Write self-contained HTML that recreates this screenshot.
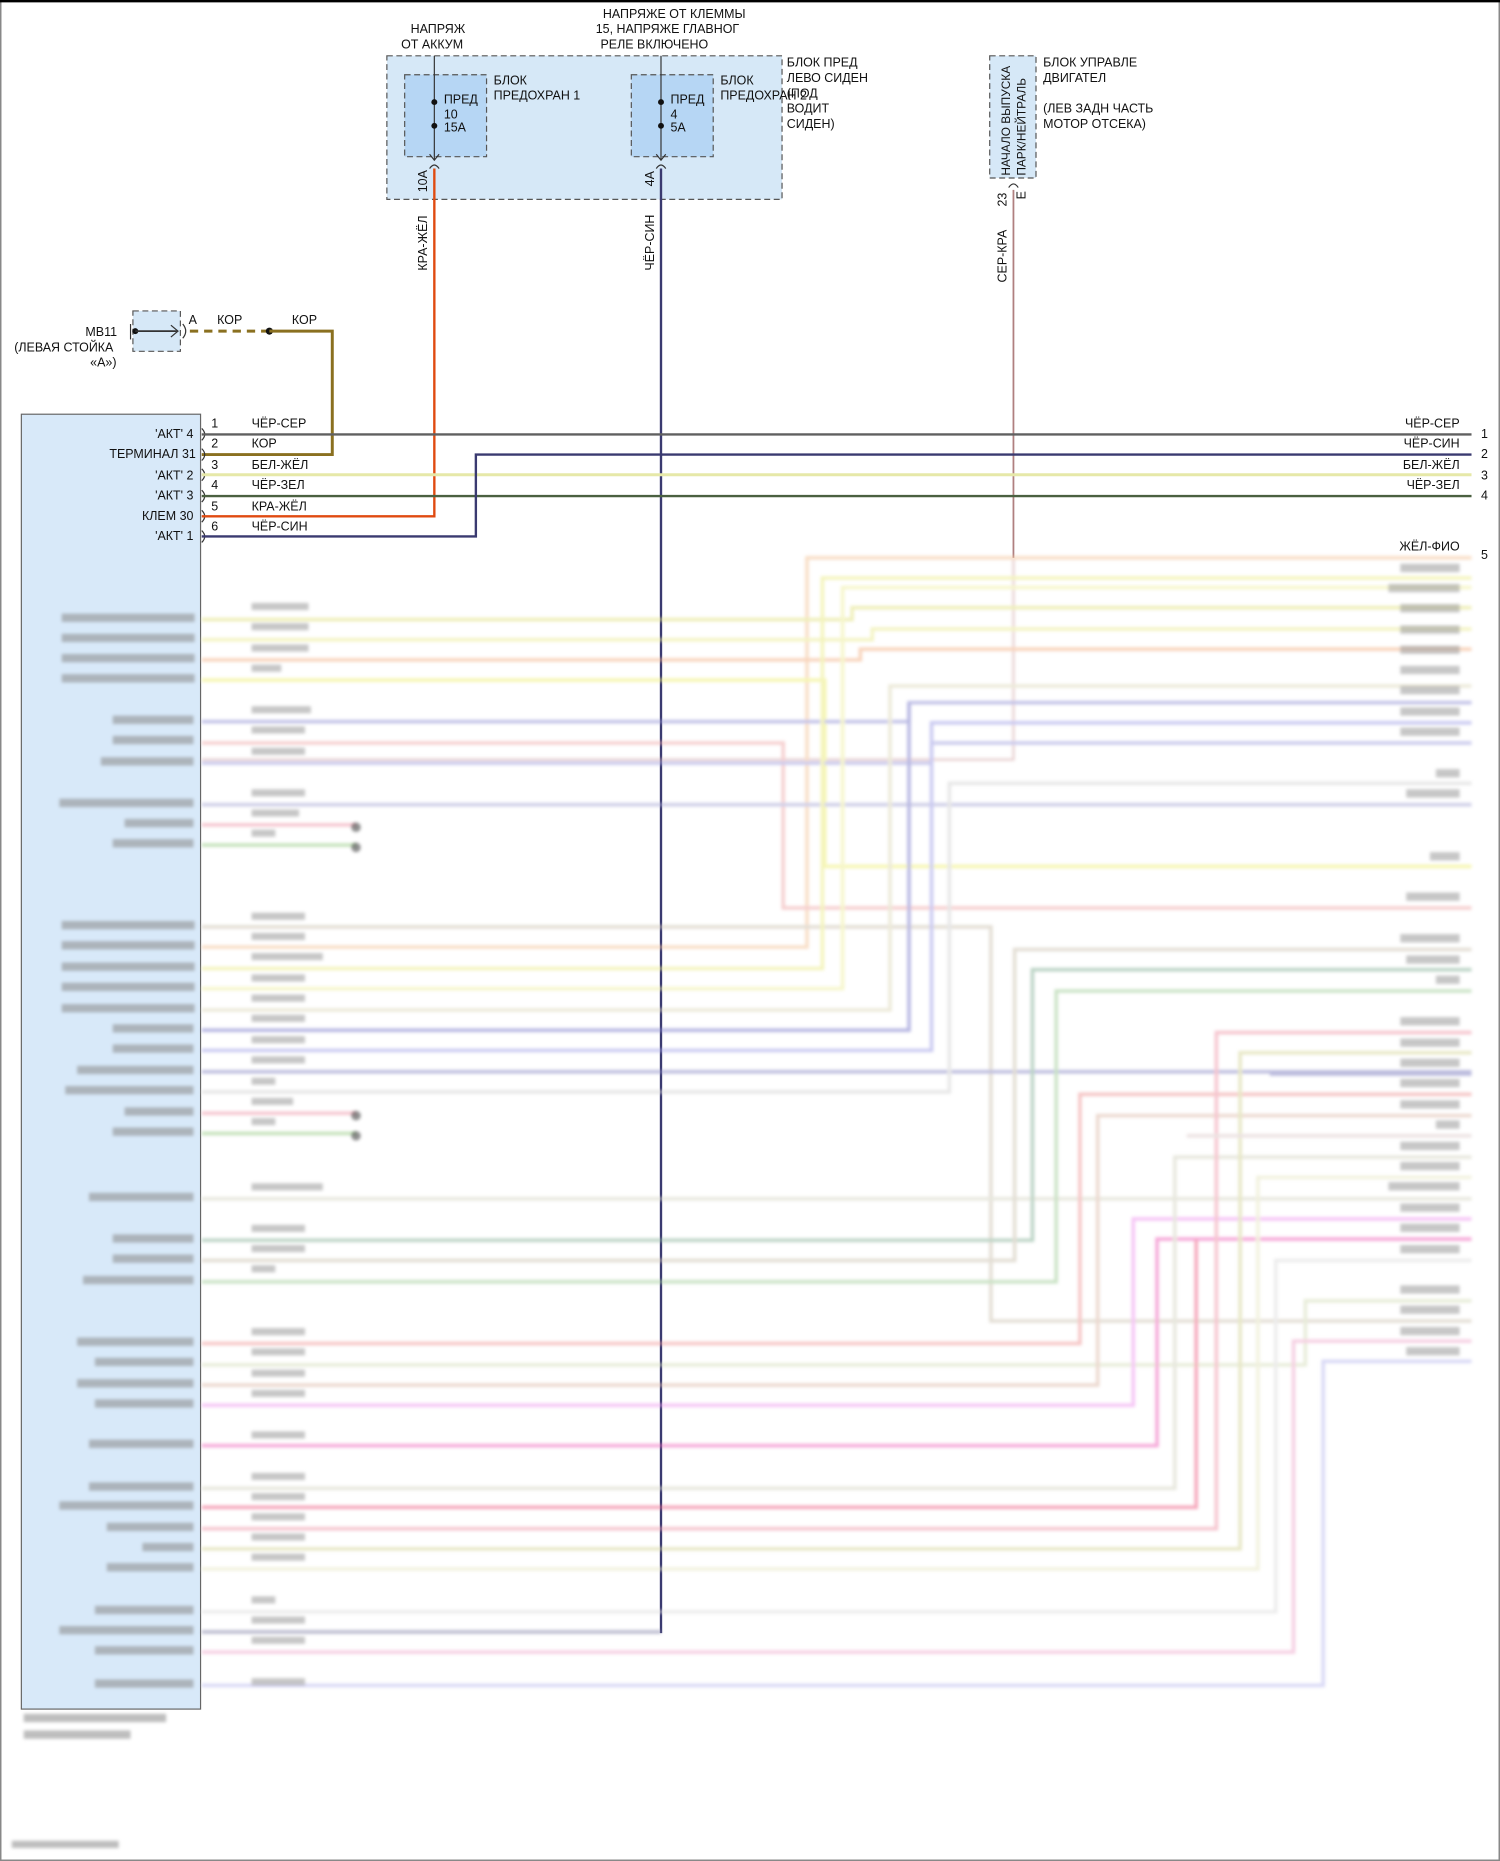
<!DOCTYPE html>
<html><head><meta charset="utf-8"><style>
html,body{margin:0;padding:0;background:#fff;}
svg{display:block;}
text{font-family:"Liberation Sans",sans-serif;font-size:10.5px;fill:#111;}
</style></head><body>
<svg width="1500" height="1861" viewBox="0 0 1264 1568" preserveAspectRatio="none" xmlns="http://www.w3.org/2000/svg">
<defs><filter id="b" x="-5%" y="-5%" width="110%" height="110%"><feGaussianBlur stdDeviation="1.3"/></filter></defs>
<rect x="0" y="0" width="1264" height="1568" fill="#fff"/>
<rect x="0.5" y="0.5" width="1263" height="1567" fill="none" stroke="#888" stroke-width="1.5"/>
<line x1="0" y1="1" x2="1264" y2="1" stroke="#000" stroke-width="2"/>

<!-- fuse block -->
<rect x="326" y="47" width="333" height="121" fill="#d6e8f7" stroke="#555" stroke-dasharray="5,3"/>
<rect x="341" y="63" width="69" height="69" fill="#b6d6f4" stroke="#555" stroke-dasharray="5,3"/>
<rect x="532" y="63" width="69" height="69" fill="#b6d6f4" stroke="#555" stroke-dasharray="5,3"/>
<line x1="366" y1="47" x2="366" y2="135" stroke="#333"/>
<line x1="557" y1="47" x2="557" y2="135" stroke="#333"/>
<circle cx="366" cy="86" r="2.5" fill="#111"/><circle cx="366" cy="106" r="2.5" fill="#111"/>
<circle cx="557" cy="86" r="2.5" fill="#111"/><circle cx="557" cy="106" r="2.5" fill="#111"/>
<path d="M362,130 L366,135 L370,130 M362,142 Q366,136 370,142" fill="none" stroke="#333"/>
<path d="M553,130 L557,135 L561,130 M553,142 Q557,136 561,142" fill="none" stroke="#333"/>
<text x="346" y="28">НАПРЯЖ</text><text x="338" y="41">ОТ АККУМ</text>
<text x="508" y="15">НАПРЯЖЕ ОТ КЛЕММЫ</text><text x="502" y="28">15, НАПРЯЖЕ ГЛАВНОГ</text><text x="506" y="41">РЕЛЕ ВКЛЮЧЕНО</text>
<text x="416" y="71">БЛОК</text><text x="416" y="84">ПРЕДОХРАН 1</text>
<text x="374" y="87">ПРЕД</text><text x="374" y="100">10</text><text x="374" y="111">15A</text>
<text x="565" y="87">ПРЕД</text><text x="565" y="100">4</text><text x="565" y="111">5A</text>
<text x="607" y="71">БЛОК</text><text x="607" y="84">ПРЕДОХРАН 2</text>
<text x="663" y="56">БЛОК ПРЕД</text><text x="663" y="69">ЛЕВО СИДЕН</text><text x="663" y="82">(ПОД</text><text x="663" y="95">ВОДИТ</text><text x="663" y="108">СИДЕН)</text>
<text transform="translate(360,162) rotate(-90)">10A</text>
<text transform="translate(551,157) rotate(-90)">4A</text>

<!-- ECU -->
<rect x="834" y="47" width="39" height="103" fill="#d6e8f7" stroke="#555" stroke-dasharray="5,3"/>
<text transform="translate(851,148) rotate(-90)" style="font-size:10px">НАЧАЛО ВЫПУСКА</text>
<text transform="translate(864,148) rotate(-90)" style="font-size:10px">ПАРК/НЕЙТРАЛЬ</text>
<path d="M850,158 Q854,152 858,158" fill="none" stroke="#333"/>
<text transform="translate(848,174) rotate(-90)">23</text>
<text transform="translate(864,168) rotate(-90)">E</text>
<text x="879" y="56">БЛОК УПРАВЛЕ</text><text x="879" y="69">ДВИГАТЕЛ</text>
<text x="879" y="95">(ЛЕВ ЗАДН ЧАСТЬ</text><text x="879" y="108">МОТОР ОТСЕКА)</text>

<!-- vertical wires -->
<line x1="366" y1="142" x2="366" y2="436" stroke="#e04a10" stroke-width="2"/>
<line x1="557" y1="142" x2="557" y2="1376" stroke="#3a3a70" stroke-width="2"/>
<line x1="854" y1="160" x2="854" y2="470" stroke="#b08080" stroke-width="1.5"/>
<text transform="translate(360,228) rotate(-90)">КРА-ЖЁЛ</text>
<text transform="translate(551,228) rotate(-90)">ЧЁР-СИН</text>
<text transform="translate(848,238) rotate(-90)">СЕР-КРА</text>

<!-- MB11 -->
<rect x="112" y="262" width="40" height="34" fill="#d6e8f7" stroke="#555" stroke-dasharray="5,3"/>
<line x1="110" y1="273" x2="110" y2="286" stroke="#333"/>
<circle cx="114" cy="279" r="2.5" fill="#111"/>
<line x1="114" y1="279" x2="149" y2="279" stroke="#333" stroke-width="1.5"/>
<path d="M144,274 L150,279 L144,284 M154,273 Q159,279 154,285" fill="none" stroke="#333"/>
<text x="72" y="283">MB11</text><text x="12" y="296">(ЛЕВАЯ СТОЙКА</text><text x="76" y="309">«A»)</text>
<text x="159" y="273">A</text><text x="183" y="273">КОР</text><text x="246" y="273">КОР</text>
<line x1="160" y1="279" x2="227" y2="279" stroke="#8a7020" stroke-width="2.5" stroke-dasharray="7,5"/>
<circle cx="227" cy="279" r="3" fill="#111"/>
<polyline points="227,279 280,279 280,383 170,383" fill="none" stroke="#8a7020" stroke-width="2.5"/>

<!-- module -->
<rect x="18" y="349" width="151" height="1091" fill="#d8e9f9" stroke="#666"/>
<g text-anchor="end">
<text x="163" y="369">'АКТ' 4</text><text x="165" y="386">ТЕРМИНАЛ 31</text><text x="163" y="404">'АКТ' 2</text>
<text x="163" y="421">'АКТ' 3</text><text x="163" y="438">КЛЕМ 30</text><text x="163" y="455">'АКТ' 1</text>
</g>
<g fill="none" stroke="#333"><path d="M170,361 Q175,366 170,371 M170,378 Q175,383 170,388 M170,395 Q175,400 170,405 M170,413 Q175,418 170,423 M170,430 Q175,435 170,440 M170,447 Q175,452 170,457"/></g>
<text x="178" y="360">1</text><text x="178" y="377">2</text><text x="178" y="395">3</text><text x="178" y="412">4</text><text x="178" y="430">5</text><text x="178" y="447">6</text>
<text x="212" y="360">ЧЁР-СЕР</text><text x="212" y="377">КОР</text><text x="212" y="395">БЕЛ-ЖЁЛ</text><text x="212" y="412">ЧЁР-ЗЕЛ</text><text x="212" y="430">КРА-ЖЁЛ</text><text x="212" y="447">ЧЁР-СИН</text>
<line x1="170" y1="366" x2="1240" y2="366" stroke="#606060" stroke-width="2"/>
<line x1="170" y1="400" x2="1240" y2="400" stroke="#e6e8a8" stroke-width="2.5"/>
<line x1="170" y1="418" x2="1240" y2="418" stroke="#4a6040" stroke-width="2"/>
<line x1="170" y1="435" x2="366" y2="435" stroke="#e04a10" stroke-width="2"/>
<polyline points="170,452 401,452 401,383 1240,383" fill="none" stroke="#3a3a70" stroke-width="2"/>
<g text-anchor="end"><text x="1230" y="360">ЧЁР-СЕР</text><text x="1230" y="377">ЧЁР-СИН</text><text x="1230" y="395">БЕЛ-ЖЁЛ</text><text x="1230" y="412">ЧЁР-ЗЕЛ</text><text x="1230" y="464">ЖЁЛ-ФИО</text></g>
<text x="1248" y="369">1</text><text x="1248" y="386">2</text><text x="1248" y="404">3</text><text x="1248" y="421">4</text><text x="1248" y="471">5</text>

<!-- blurred lower section -->
<g filter="url(#b)" fill="none" stroke-width="3" opacity="0.6">
<polyline points="854,470 854,640 170,640" stroke="#d8b0b0" stroke-width="2"/>
<polyline points="170,798 680,798 680,470 1240,470" stroke="#f4c8a0"/>
<polyline points="170,522 718,522 718,512 1240,512" stroke="#e4e48c"/>
<polyline points="170,539 735,539 735,530 1240,530" stroke="#ecec9c"/>
<polyline points="170,556 725,556 725,547 1240,547" stroke="#f4b890"/>
<polyline points="170,573 695,573 695,730 1240,730" stroke="#f0f080"/>
<polyline points="170,608 766,608 766,592 1240,592" stroke="#9a9ad8"/>
<polyline points="170,626 660,626 660,765 1240,765" stroke="#f0b0b0"/>
<polyline points="170,643 785,643 785,626 1240,626" stroke="#a8a8e0"/>
<polyline points="170,678 1240,678" stroke="#b0b0d8"/>
<polyline points="170,695 300,695" stroke="#f0a0b0"/>
<polyline points="170,712 300,712" stroke="#a0d090"/>
<polyline points="170,781 835,781 835,1113 1240,1113" stroke="#d0c8b8"/>
<polyline points="170,816 693,816 693,487 1240,487" stroke="#ecec90"/>
<polyline points="170,833 710,833 710,495 1240,495" stroke="#f0f0a8"/>
<polyline points="170,851 750,851 750,578 1240,578" stroke="#e0dcc0"/>
<polyline points="170,868 766,868 766,592" stroke="#8888d0"/>
<polyline points="170,885 785,885 785,609 1240,609" stroke="#a8a8e8"/>
<polyline points="170,903 1240,903" stroke="#9090c8"/>
<polyline points="170,920 800,920 800,660 1240,660" stroke="#d8d8d8"/>
<polyline points="170,938 300,938" stroke="#f0a0b0"/>
<polyline points="170,955 300,955" stroke="#a0d090"/>
<polyline points="170,1010 1240,1010" stroke="#d8d8c8"/>
<polyline points="170,1045 870,1045 870,817 1240,817" stroke="#90b8a0"/>
<polyline points="170,1062 855,1062 855,800 1240,800" stroke="#d0c8b8"/>
<polyline points="170,1080 890,1080 890,835 1240,835" stroke="#a8d0a0"/>
<polyline points="170,1132 910,1132 910,922 1240,922" stroke="#f0a0a0"/>
<polyline points="170,1150 1100,1150 1100,1096 1240,1096" stroke="#d8e0c0"/>
<polyline points="170,1167 925,1167 925,940 1240,940" stroke="#e0c0b0"/>
<polyline points="170,1184 955,1184 955,1027 1240,1027" stroke="#f0a0f0"/>
<polyline points="170,1218 975,1218 975,1044 1240,1044" stroke="#f070c0"/>
<polyline points="170,1254 990,1254 990,975 1240,975" stroke="#d8d8c8"/>
<polyline points="170,1270 1008,1270 1008,1044" stroke="#f07090"/>
<polyline points="170,1288 1025,1288 1025,870 1240,870" stroke="#f0a0b0"/>
<polyline points="170,1305 1045,1305 1045,887 1240,887" stroke="#d8d8a0"/>
<polyline points="170,1322 1060,1322 1060,992 1240,992" stroke="#e8e8c8"/>
<polyline points="170,1358 1075,1358 1075,1062 1240,1062" stroke="#e0e0e0"/>
<polyline points="170,1375 557,1375" stroke="#9090b0"/>
<polyline points="170,1392 1090,1392 1090,1130 1240,1130" stroke="#f0b0d0"/>
<polyline points="170,1420 1115,1420 1115,1147 1240,1147" stroke="#c0c0f0"/>
<polyline points="1070,905 1240,905" stroke="#9090c8"/>
<polyline points="1000,957 1240,957" stroke="#e0d0d0"/>
</g>
<g filter="url(#b)" opacity="0.55">
<circle cx="300" cy="697" r="4" fill="#333"/><circle cx="300" cy="714" r="4" fill="#333"/>
<circle cx="300" cy="940" r="4" fill="#333"/><circle cx="300" cy="957" r="4" fill="#333"/>
<g fill="#888">
<rect x="52" y="517" width="112" height="7"/><rect x="52" y="534" width="112" height="7"/><rect x="52" y="551" width="112" height="7"/><rect x="52" y="568" width="112" height="7"/>
<rect x="95" y="603" width="68" height="7"/><rect x="95" y="620" width="68" height="7"/><rect x="85" y="638" width="78" height="7"/>
<rect x="50" y="673" width="113" height="7"/><rect x="105" y="690" width="58" height="7"/><rect x="95" y="707" width="68" height="7"/>
<rect x="52" y="776" width="112" height="7"/><rect x="52" y="793" width="112" height="7"/><rect x="52" y="811" width="112" height="7"/><rect x="52" y="828" width="112" height="7"/><rect x="52" y="846" width="112" height="7"/>
<rect x="95" y="863" width="68" height="7"/><rect x="95" y="880" width="68" height="7"/><rect x="65" y="898" width="98" height="7"/><rect x="55" y="915" width="108" height="7"/><rect x="105" y="933" width="58" height="7"/><rect x="95" y="950" width="68" height="7"/>
<rect x="75" y="1005" width="88" height="7"/><rect x="95" y="1040" width="68" height="7"/><rect x="95" y="1057" width="68" height="7"/><rect x="70" y="1075" width="93" height="7"/>
<rect x="65" y="1127" width="98" height="7"/><rect x="80" y="1144" width="83" height="7"/><rect x="65" y="1162" width="98" height="7"/><rect x="80" y="1179" width="83" height="7"/><rect x="75" y="1213" width="88" height="7"/>
<rect x="75" y="1249" width="88" height="7"/><rect x="50" y="1265" width="113" height="7"/><rect x="90" y="1283" width="73" height="7"/><rect x="120" y="1300" width="43" height="7"/><rect x="90" y="1317" width="73" height="7"/>
<rect x="80" y="1353" width="83" height="7"/><rect x="50" y="1370" width="113" height="7"/><rect x="80" y="1387" width="83" height="7"/><rect x="80" y="1415" width="83" height="7"/>
<rect x="20" y="1444" width="120" height="7"/><rect x="20" y="1458" width="90" height="7"/><rect x="10" y="1551" width="90" height="6"/>
</g>
<g fill="#999">
<rect x="212" y="508" width="48" height="6"/><rect x="212" y="525" width="48" height="6"/><rect x="212" y="543" width="48" height="6"/><rect x="212" y="560" width="25" height="6"/>
<rect x="212" y="595" width="50" height="6"/><rect x="212" y="612" width="45" height="6"/><rect x="212" y="630" width="45" height="6"/><rect x="212" y="665" width="45" height="6"/><rect x="212" y="682" width="40" height="6"/><rect x="212" y="699" width="20" height="6"/>
<rect x="212" y="769" width="45" height="6"/><rect x="212" y="786" width="45" height="6"/><rect x="212" y="803" width="60" height="6"/><rect x="212" y="821" width="45" height="6"/><rect x="212" y="838" width="45" height="6"/><rect x="212" y="855" width="45" height="6"/><rect x="212" y="873" width="45" height="6"/><rect x="212" y="890" width="45" height="6"/><rect x="212" y="908" width="20" height="6"/><rect x="212" y="925" width="35" height="6"/><rect x="212" y="942" width="20" height="6"/>
<rect x="212" y="997" width="60" height="6"/><rect x="212" y="1032" width="45" height="6"/><rect x="212" y="1049" width="45" height="6"/><rect x="212" y="1066" width="20" height="6"/>
<rect x="212" y="1119" width="45" height="6"/><rect x="212" y="1136" width="45" height="6"/><rect x="212" y="1154" width="45" height="6"/><rect x="212" y="1171" width="45" height="6"/><rect x="212" y="1206" width="45" height="6"/>
<rect x="212" y="1241" width="45" height="6"/><rect x="212" y="1258" width="45" height="6"/><rect x="212" y="1275" width="45" height="6"/><rect x="212" y="1292" width="45" height="6"/><rect x="212" y="1309" width="45" height="6"/>
<rect x="212" y="1345" width="20" height="6"/><rect x="212" y="1362" width="45" height="6"/><rect x="212" y="1379" width="45" height="6"/><rect x="212" y="1414" width="45" height="6"/>
<rect x="1180" y="475" width="50" height="7"/><rect x="1170" y="492" width="60" height="7"/><rect x="1180" y="509" width="50" height="7"/><rect x="1180" y="527" width="50" height="7"/><rect x="1180" y="544" width="50" height="7"/><rect x="1180" y="561" width="50" height="7"/><rect x="1180" y="578" width="50" height="7"/><rect x="1180" y="596" width="50" height="7"/><rect x="1180" y="613" width="50" height="7"/>
<rect x="1210" y="648" width="20" height="7"/><rect x="1185" y="665" width="45" height="7"/><rect x="1205" y="718" width="25" height="7"/><rect x="1185" y="752" width="45" height="7"/>
<rect x="1180" y="787" width="50" height="7"/><rect x="1185" y="805" width="45" height="7"/><rect x="1210" y="822" width="20" height="7"/>
<rect x="1180" y="857" width="50" height="7"/><rect x="1180" y="875" width="50" height="7"/><rect x="1180" y="892" width="50" height="7"/><rect x="1180" y="909" width="50" height="7"/><rect x="1180" y="927" width="50" height="7"/><rect x="1210" y="944" width="20" height="7"/>
<rect x="1180" y="962" width="50" height="7"/><rect x="1180" y="979" width="50" height="7"/><rect x="1170" y="996" width="60" height="7"/><rect x="1180" y="1014" width="50" height="7"/><rect x="1180" y="1031" width="50" height="7"/><rect x="1180" y="1049" width="50" height="7"/>
<rect x="1180" y="1083" width="50" height="7"/><rect x="1180" y="1100" width="50" height="7"/><rect x="1180" y="1118" width="50" height="7"/><rect x="1185" y="1135" width="45" height="7"/>
</g>
</g>
</svg>
</body></html>
